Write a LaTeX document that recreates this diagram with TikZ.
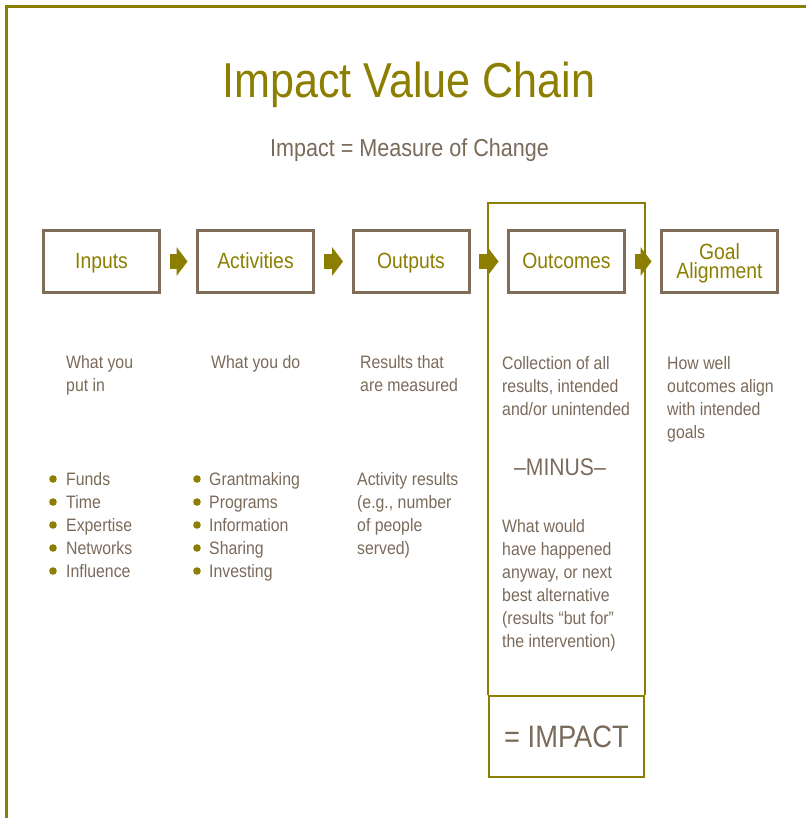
\documentclass[tikz,border=0pt]{standalone}
\usepackage{fontspec}
\setmainfont[FakeStretch=0.88]{Liberation Sans}
\usetikzlibrary{arrows.meta}
\definecolor{olivegold}{RGB}{140,126,0}
\definecolor{boxbrown}{RGB}{127,109,88}
\definecolor{textbrown}{RGB}{122,106,90}

\begin{document}
\begin{tikzpicture}[x=1pt,y=-1pt,
	stagebox/.style={draw=boxbrown, line width=3pt, minimum width=116pt, minimum height=62pt, inner sep=0pt, text height=16pt, text depth=2pt, text=olivegold, align=center, font=\fontsize{22}{19}\selectfont},
	chainarrow/.style={olivegold, line width=15pt, -{Triangle[length=11pt,width=29pt,line width=0pt]}},
	bodytext/.style={anchor=base west, align=left, inner sep=0pt, text=textbrown, font=\fontsize{18}{23}\selectfont},
	bulletdot/.style={fill=olivegold}]

	\useasboundingbox (0,0) rectangle (806,818);
	\draw[olivegold, line width=3pt] (6.5,818) -- (6.5,6.5) -- (806,6.5);

	\node[anchor=base, inner sep=0pt, text=olivegold, font=\fontsize{49}{49}\selectfont] (title) at (409,98) {Impact Value Chain};
	\node[anchor=base, inner sep=0pt, text=textbrown, font=\fontsize{24.5}{24.5}\selectfont] (sub) at (409.5,157) {Impact = Measure of Change};

	\node[stagebox] (in) at (101.5,261.5) {Inputs};
	\node[stagebox] (act) at (255.5,261.5) {Activities};
	\node[stagebox] (out) at (411,261.5) {Outputs};
	\node[stagebox] (oc) at (566.5,261.5) {Outcomes};
	\node[stagebox, text height=35pt] (goal) at (719.5,261.5) {Goal\\Alignment};

	\draw[chainarrow] ([xshift=8.5pt]in.east) -- ([xshift=-8.5pt]act.west);
	\draw[chainarrow] ([xshift=8.5pt]act.east) -- ([xshift=-8.5pt]out.west);
	\draw[chainarrow] ([xshift=8.5pt]out.east) -- ([xshift=-8.5pt]oc.west);
	\draw[chainarrow] ([xshift=8.5pt]oc.east) -- ([xshift=-8.5pt]goal.west);

	% outcomes column
	\coordinate (top) at (566.5,203);
	\node[draw=olivegold, line width=2pt, minimum width=155pt, minimum height=81pt, inner sep=0pt, text=textbrown, font=\fontsize{31}{31}\selectfont] (imp) at (566.5,736.5) {= IMPACT};
	\draw[olivegold, line width=2pt] (imp.north west) -- (imp.north west |- top) -- (imp.north east |- top) -- (imp.north east);

	% base of a multi-line node is its last line
	\node[bodytext] (d1) at (66,391) {What you\\put in};
	\node[bodytext] (d2) at (211,368) {What you do};
	\node[bodytext] (d3) at (360,391) {Results that\\are measured};
	\node[bodytext] (d4) at (502,415) {Collection of all\\results, intended\\and/or unintended};
	\node[bodytext] (d5) at (667,438) {How well\\outcomes align\\with intended\\goals};

	\foreach \w [count=\i] in {Funds,Time,Expertise,Networks,Influence}{
		\fill[bulletdot] (53,456+23*\i) circle (3.8pt);
		\node[bodytext] (a\i) at (66,462+23*\i) {\w};
	}
	\foreach \w [count=\i] in {Grantmaking,Programs,Information,Sharing,Investing}{
		\fill[bulletdot] (197,456+23*\i) circle (3.8pt);
		\node[bodytext] (b\i) at (209,462+23*\i) {\w};
	}
	\node[bodytext] (e3) at (357,554) {Activity results\\(e.g., number\\of people\\served)};

	\node[anchor=base, inner sep=0pt, text=textbrown, font=\fontsize{24}{24}\selectfont] (minus) at (560,475) {–MINUS–};
	\node[bodytext] (e4) at (502,647) {What would\\have happened\\anyway, or next\\best alternative\\(results “but for”\\the intervention)};
\end{tikzpicture}
\end{document}
